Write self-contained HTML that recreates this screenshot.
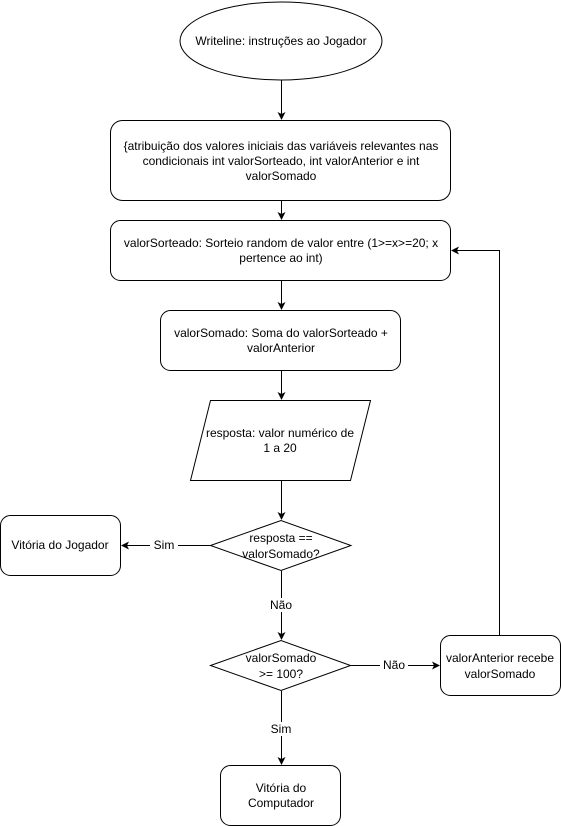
<!DOCTYPE html>
<html><head><meta charset="utf-8"><style>body{margin:0;background:#fff}svg{display:block}</style></head><body>
<svg width="561" height="826" xmlns="http://www.w3.org/2000/svg" font-family="Liberation Sans, sans-serif" font-size="12" fill="none" stroke="#000">
<defs><marker id="a" markerWidth="8" markerHeight="8" refX="7" refY="4" orient="auto" markerUnits="userSpaceOnUse"><path d="M0,0 L8,4 L0,8 L2,4 Z" fill="#000" stroke="none"/></marker></defs>
<ellipse cx="281" cy="41" rx="101" ry="39"/>
<rect x="110.5" y="120.5" width="340" height="80" rx="12"/>
<rect x="110.5" y="220.5" width="340" height="60" rx="10"/>
<rect x="160.5" y="310.5" width="240" height="60" rx="10"/>
<path d="M210.5,400.5 L370.5,400.5 L350.5,480.5 L190.5,480.5 Z"/>
<path d="M210.5,545.5 L281,520.5 L351,545.5 L281,570.5 Z"/>
<rect x="0.5" y="515.5" width="120" height="60" rx="10"/>
<path d="M210.5,665.5 L281,640.5 L350.5,665.5 L281,690.5 Z"/>
<rect x="440.5" y="635.5" width="120" height="60" rx="10"/>
<rect x="220.5" y="765.5" width="120" height="60" rx="10"/>
<g marker-end="url(#a)">
<path d="M281.5,80 V119"/>
<path d="M281.5,201 V219"/>
<path d="M281.5,281 V309"/>
<path d="M281.5,371 V399"/>
<path d="M281.5,481 V519"/>
<path d="M210,545.5 H122"/>
<path d="M281.5,571 V639"/>
<path d="M351,665.5 H439"/>
<path d="M281.5,691 V764"/>
<path d="M499.5,635 V250.5 H452"/>
</g>
<g fill="#000" stroke="none" text-anchor="middle">
<text x="281" y="45">Writeline: instruções ao Jogador</text>
<text x="281" y="150">{atribuição dos valores iniciais das variáveis relevantes nas</text>
<text x="281" y="165">condicionais int valorSorteado, int valorAnterior e  int</text>
<text x="281" y="180">valorSomado</text>
<text x="281" y="247">valorSorteado: Sorteio random de valor entre (1&gt;=x&gt;=20; x</text>
<text x="281" y="262">pertence ao int)</text>
<text x="281" y="337">valorSomado: Soma do valorSorteado +</text>
<text x="281" y="352">valorAnterior</text>
<text x="280" y="437">resposta: valor numérico de</text>
<text x="280" y="452">1 a 20</text>
<text x="281" y="542">resposta ==</text>
<text x="281" y="558">valorSomado?</text>
<text x="60" y="549">Vitória do Jogador</text>
<rect x="150" y="538" width="28" height="14" fill="#fff"/>
<text x="164" y="549">Sim</text>
<rect x="266" y="598" width="30" height="14" fill="#fff"/>
<text x="281" y="609">Não</text>
<text x="281" y="662">valorSomado</text>
<text x="281" y="678">&gt;= 100?</text>
<rect x="380" y="658" width="28" height="14" fill="#fff"/>
<text x="394" y="669">Não</text>
<text x="500" y="662">valorAnterior recebe</text>
<text x="500" y="678">valorSomado</text>
<rect x="268" y="722" width="26" height="14" fill="#fff"/>
<text x="281" y="733">Sim</text>
<text x="281" y="792">Vitória do</text>
<text x="281" y="807">Computador</text>
</g>
</svg>
</body></html>
